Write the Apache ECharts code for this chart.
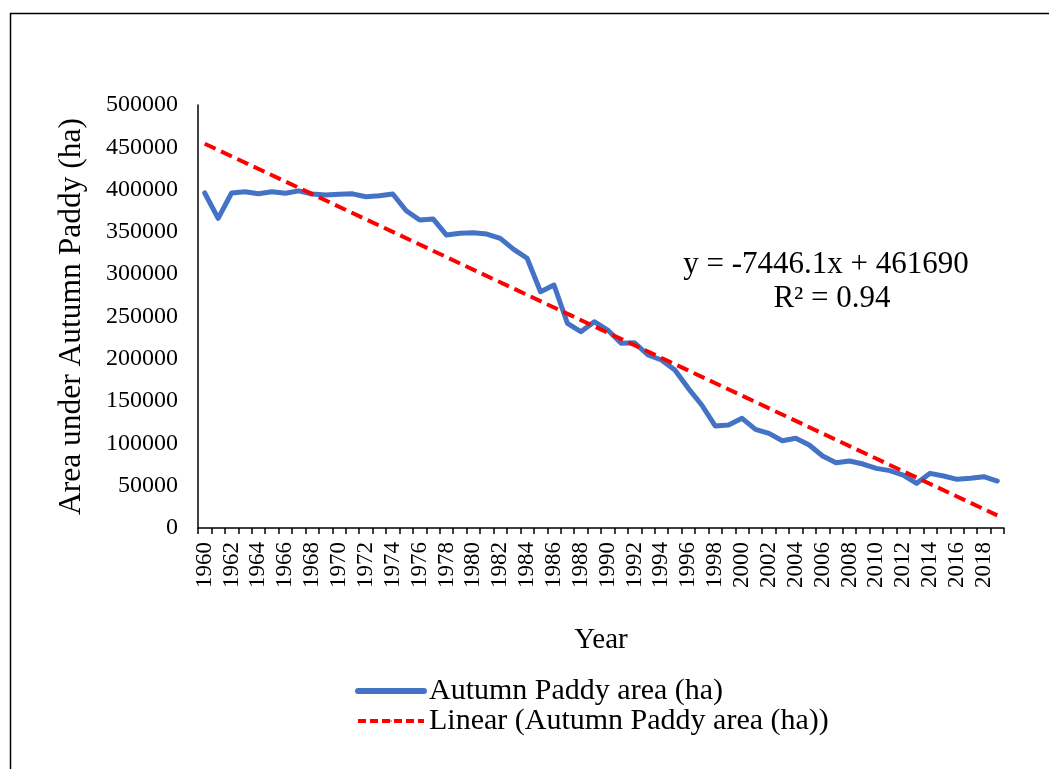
<!DOCTYPE html>
<html>
<head>
<meta charset="utf-8">
<script src="https://cdn.jsdelivr.net/npm/echarts@6/dist/echarts.min.js"></script>
<style>
  html, body { margin: 0; padding: 0; background: #fff; }
  #main { width: 1049px; height: 769px; }
</style>
</head>
<body>
<div id="main"></div>
<script>
// Years on the category axis
const years = [];
for (let y = 1960; y <= 2019; y++) years.push(String(y));

// Autumn paddy area (ha)
const paddyArea = [
  396000, 366000, 396000, 397500, 395000, 397500, 395600, 398500, 394800, 393600,
  394400, 395000, 391600, 392800, 394800, 375000, 364000, 365300, 346300, 348300,
  349000, 347500, 342400, 329400, 318800, 279300, 287200, 242000, 232000, 243800,
  234000, 218300, 219000, 204500, 198600, 186800, 165100, 145400, 120600, 121700,
  129600, 116600, 111900, 103200, 106000, 98100, 85100, 77200, 79200, 75600,
  70500, 67800, 62600, 52800, 64600, 61500, 57500, 58700, 60600, 55500
];

// Linear trendline end points (first and last year)
const trendEnds = [['1960', 454244], ['2019', 14924]];

const eqLines = ['y = -7446.1x + 461690', 'R\u00B2 = 0.94'];

const serif = '"Liberation Serif", "DejaVu Serif", serif';

const chart = echarts.init(document.getElementById('main'));

chart.setOption({
  animation: false,
  backgroundColor: '#fff',
  textStyle: { fontFamily: serif, color: '#000' },
  grid: { left: 198, right: 45, top: 105, bottom: 241 },
  legend: {
    orient: 'vertical',
    left: 350,
    top: 671,
    itemWidth: 66,
    itemHeight: 2,
    itemGap: 0,
    textStyle: { fontFamily: serif, fontSize: 30, color: '#000' },
    data: [
      { name: 'Autumn Paddy area (ha)', lineStyle: { color: '#4472C4', width: 6, cap: 'round' } },
      { name: 'Linear (Autumn Paddy area (ha))', lineStyle: { color: '#FF0000', width: 4, type: [8, 4] } }
    ]
  },
  xAxis: {
    type: 'category',
    data: years,
    boundaryGap: true,
    name: 'Year',
    nameLocation: 'middle',
    nameGap: 98,
    nameTextStyle: { fontFamily: serif, fontSize: 29, color: '#000' },
    axisLine: { lineStyle: { color: '#000', width: 1.5 } },
    axisTick: { show: true, interval: 0, length: 6, lineStyle: { color: '#000', width: 1.5 } },
    axisLabel: {
      interval: 1,
      rotate: 90,
      margin: 14,
      fontFamily: serif,
      fontSize: 23,
      color: '#000'
    },
    splitLine: { show: false }
  },
  yAxis: {
    type: 'value',
    min: 0,
    max: 500000,
    interval: 50000,
    name: 'Area under Autumn Paddy (ha)',
    nameLocation: 'middle',
    nameGap: 110,
    nameTextStyle: { fontFamily: serif, fontSize: 31.5, color: '#000' },
    axisLine: { show: true, lineStyle: { color: '#000', width: 1.5 } },
    axisTick: { show: false },
    axisLabel: {
      margin: 20,
      fontFamily: serif,
      fontSize: 24,
      color: '#000',
      formatter: v => String(v)
    },
    splitLine: { show: false }
  },
  graphic: [
    {
      type: 'rect',
      left: 8,
      top: 11,
      shape: { width: 1100, height: 800 },
      style: { fill: 'none', stroke: '#000', lineWidth: 1.5 },
      silent: true,
      z: -1
    },
    {
      type: 'text',
      x: 826,
      y: 265,
      style: {
        text: eqLines[0],
        font: '31px ' + serif,
        fill: '#000',
        align: 'center',
        verticalAlign: 'middle'
      }
    },
    {
      type: 'text',
      x: 832,
      y: 299,
      style: {
        text: eqLines[1],
        font: '31px ' + serif,
        fill: '#000',
        align: 'center',
        verticalAlign: 'middle'
      }
    }
  ],
  series: [
    {
      name: 'Autumn Paddy area (ha)',
      type: 'line',
      data: paddyArea,
      symbol: 'none',
      lineStyle: { color: '#4472C4', width: 5, join: 'round', cap: 'round' },
      itemStyle: { color: '#4472C4' },
      z: 2
    },
    {
      name: 'Linear (Autumn Paddy area (ha))',
      type: 'line',
      data: trendEnds,
      symbol: 'none',
      lineStyle: { color: '#FF0000', width: 4, type: [12, 6] },
      itemStyle: { color: '#FF0000' },
      z: 3
    }
  ]
});

window.addEventListener('resize', () => chart.resize());
</script>
</body>
</html>
